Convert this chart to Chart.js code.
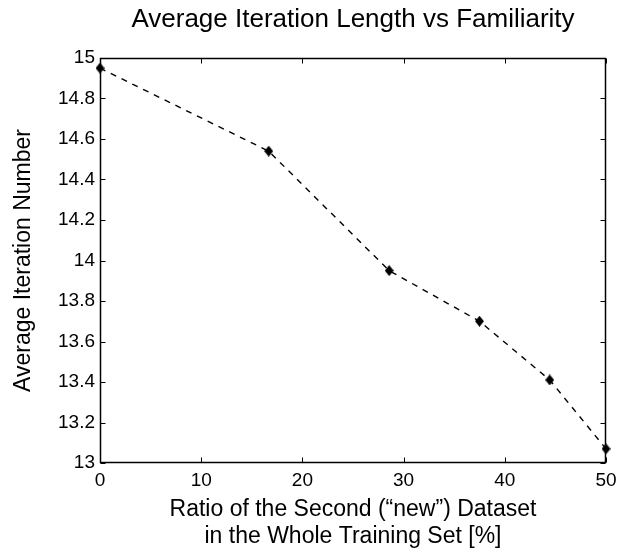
<!DOCTYPE html>
<html>
<head>
<meta charset="utf-8">
<script src="https://cdn.jsdelivr.net/npm/chart.js@4/dist/chart.umd.min.js"></script>
<style>
	html, body {margin: 0; padding: 0; background: #fff;}
	canvas {display: block;}
</style>
</head>
<body>
<canvas id="chart" width="623" height="550"></canvas>
<script>
'use strict'
// ratio of the second dataset, %
const ratios = [0, 16.67, 28.57, 37.5, 44.44, 50];
// average iteration number
const iterations = [14.95, 14.54, 13.95, 13.70, 13.41, 13.07];
const xTicks = [0, 10, 20, 30, 40, 50];
const yTicks = [13, 13.2, 13.4, 13.6, 13.8, 14, 14.2, 14.4, 14.6, 14.8, 15];

const titleText = "Average Iteration Length vs Familiarity";
const xTitle = ["Ratio of the Second (\u201cnew\u201d) Dataset", "in the Whole Training Set [%]"];
const yTitle = "Average Iteration Number";

Chart.defaults.font.family = "'Liberation Sans', Arial, Helvetica, sans-serif";
Chart.defaults.color = "#000";

// matlab-like diamond marker
let diamond = document.createElement("canvas");
diamond.width = 9; diamond.height = 11;
let dctx = diamond.getContext("2d");
dctx.fillStyle = "#000";
dctx.beginPath();
dctx.moveTo(4.5, 0); dctx.lineTo(9, 5.5); dctx.lineTo(4.5, 11); dctx.lineTo(0, 5.5);
dctx.closePath();
dctx.fill();

// box round the axes with inward ticks
const frame = {
	id: "frame",
	beforeDatasetsDraw(chart) {
		let {ctx, chartArea: a, scales: {x, y}} = chart;
		let L = Math.round(a.left) + 0.5, R = Math.round(a.right) - 0.5;
		let T = Math.round(a.top) + 0.5, B = Math.round(a.bottom) - 0.5;
		ctx.save();
		ctx.strokeStyle = "#000";
		ctx.lineWidth = 1.5;
		ctx.strokeRect(L, T, R - L, B - T);
		ctx.beginPath();
		ctx.lineWidth = 1;
		xTicks.forEach(v => {
			let px = Math.round(x.getPixelForValue(v)) + 0.5;
			ctx.moveTo(px, B); ctx.lineTo(px, B - 5);
			ctx.moveTo(px, T); ctx.lineTo(px, T + 5);
		});
		yTicks.forEach(v => {
			let py = Math.round(y.getPixelForValue(v)) + 0.5;
			ctx.moveTo(L, py); ctx.lineTo(L + 5, py);
			ctx.moveTo(R, py); ctx.lineTo(R - 5, py);
		});
		ctx.stroke();
		ctx.restore();
	}
};

let chart = new Chart(document.getElementById("chart").getContext("2d"), {
	type: "line",
	data: {
		datasets: [{
			data: ratios.map((r, i) => ({x: r, y: iterations[i]})),
			borderColor: "#000",
			borderWidth: 1.4,
			borderDash: [6, 6],
			pointStyle: diamond,
			pointRadius: 5,
			backgroundColor: "#000",
			tension: 0,
			clip: false
		}]
	},
	options: {
		responsive: false,
		animation: false,
		layout: {padding: {left: 0, right: 17, top: 0, bottom: 0}},
		plugins: {
			legend: {display: false},
			tooltip: {enabled: false},
			title: {
				display: true,
				text: titleText,
				fullSize: false,
				color: "#000",
				font: {size: 26, weight: "normal"},
				padding: {top: 4.5, bottom: 22.3}
			}
		},
		scales: {
			x: {
				type: "linear",
				min: 0, max: 50,
				afterBuildTicks: s => { s.ticks = xTicks.map(v => ({value: v})); },
				afterFit: s => { s.height = 87; },
				grid: {display: false, drawTicks: false},
				border: {display: false},
				ticks: {font: {size: 19}, padding: 6, maxRotation: 0, callback: v => String(v)},
				title: {display: true, text: xTitle, font: {size: 23, lineHeight: 1.17}, padding: {top: 0, bottom: 0}}
			},
			y: {
				type: "linear",
				min: 13, max: 15,
				afterBuildTicks: s => { s.ticks = yTicks.map(v => ({value: v})); },
				afterFit: s => { s.width = 100; },
				grid: {display: false, drawTicks: false},
				border: {display: false},
				ticks: {font: {size: 19}, padding: 5, callback: v => String(v)},
				title: {display: true, text: yTitle, font: {size: 23}, padding: {top: 10, bottom: 0}}
			}
		}
	},
	plugins: [frame]
});
</script>
</body>
</html>
